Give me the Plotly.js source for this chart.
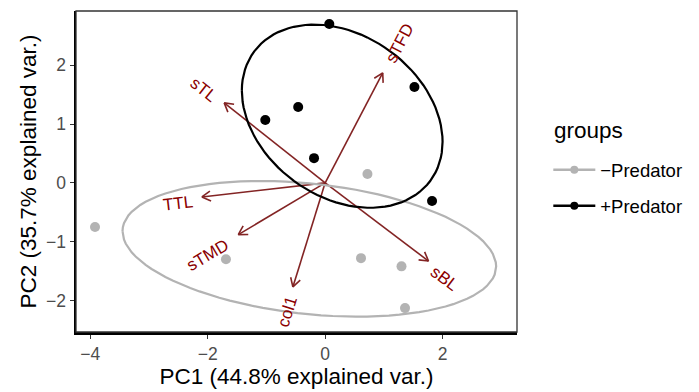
<!DOCTYPE html>
<html>
<head>
<meta charset="utf-8">
<script src="https://cdn.plot.ly/plotly-3.0.1.min.js"></script>
<style>html,body{margin:0;padding:0;background:#fff}#chart{width:699px;height:392px}</style>
</head>
<body>
<div id="chart"></div>
<script>
// ---- data ----
const groupNames = ["\u2212Predator", "+Predator"];
const legendTitle = "groups";
const noPredPC1 = [-3.92, -1.69, 0.72, 0.61, 1.30, 1.36];
const noPredPC2 = [-0.75, -1.30, 0.15, -1.28, -1.42, -2.13];
const predPC1 = [0.07, 1.52, -0.46, -1.02, -0.19, 1.82];
const predPC2 = [2.70, 1.63, 1.29, 1.07, 0.42, -0.31];

const varNames = ["sTL", "sTFD", "TTL", "sTMD", "col1", "sBL"];
const varPC1 = [-1.72, 0.98, -2.10, -1.48, -0.55, 1.76];
const varPC2 = [1.36, 1.87, -0.24, -0.88, -1.77, -1.33];
const labelPC1 = [-2.08, 1.28, -2.51, -2.01, -0.65, 2.03];
const labelPC2 = [1.58, 2.38, -0.35, -1.23, -2.20, -1.62];

const ellipseProb = 0.68;

// ---- styles ----
const grey = "#b3b3b3";
const black = "#000000";
const arrowCol = "#832424";
const labelCol = "#8b0000";
const font = "Liberation Sans, Arial, Helvetica, sans-serif";

// normal-probability ellipse (as ggbiplot)
function ellipse(xs, ys, prob) {
  const n = xs.length;
  const mx = xs.reduce((a, b) => a + b, 0) / n;
  const my = ys.reduce((a, b) => a + b, 0) / n;
  let sxx = 0, syy = 0, sxy = 0;
  for (let i = 0; i < n; i++) {
    sxx += (xs[i] - mx) ** 2; syy += (ys[i] - my) ** 2; sxy += (xs[i] - mx) * (ys[i] - my);
  }
  sxx /= (n - 1); syy /= (n - 1); sxy /= (n - 1);
  const a = Math.sqrt(sxx), b = sxy / a, c = Math.sqrt(syy - b * b);
  const ed = Math.sqrt(-2 * Math.log(1 - prob));
  const ex = [], ey = [];
  for (let k = 0; k <= 100; k++) {
    const t = -Math.PI + 2 * Math.PI * k / 100;
    const u = Math.cos(t), v = Math.sin(t);
    ex.push((u * a) * ed + mx);
    ey.push((u * b + v * c) * ed + my);
  }
  return {x: ex, y: ey};
}

const traces = [];

// arrows
const headLen = 0.17, headAng = Math.PI / 6;
const ax = [], ay = [];
for (let i = 0; i < varNames.length; i++) {
  const tx = varPC1[i], ty = varPC2[i];
  const L = Math.hypot(tx, ty);
  const ux = tx / L, uy = ty / L;
  ax.push(0, tx, null);
  ay.push(0, ty, null);
  for (const s of [1, -1]) {
    const c = Math.cos(s * headAng), sn = Math.sin(s * headAng);
    const rx = ux * c - uy * sn, ry = ux * sn + uy * c;
    ax.push(tx, tx - headLen * rx, null);
    ay.push(ty, ty - headLen * ry, null);
  }
}
traces.push({x: ax, y: ay, mode: "lines", line: {color: arrowCol, width: 1.6}, showlegend: false, hoverinfo: "skip"});

// points
traces.push({x: noPredPC1, y: noPredPC2, mode: "markers", marker: {color: grey, size: 10}, showlegend: false});
traces.push({x: predPC1, y: predPC2, mode: "markers", marker: {color: black, size: 10}, showlegend: false});

// ellipses
const e1 = ellipse(noPredPC1, noPredPC2, ellipseProb);
const e2 = ellipse(predPC1, predPC2, ellipseProb);
traces.push({x: e1.x, y: e1.y, mode: "lines", line: {color: grey, width: 2.2}, showlegend: false, hoverinfo: "skip"});
traces.push({x: e2.x, y: e2.y, mode: "lines", line: {color: black, width: 2.2}, showlegend: false, hoverinfo: "skip"});

// legend entries
traces.push({x: [null], y: [null], mode: "lines+markers", name: groupNames[0], legendgroup: "a",
  line: {color: grey, width: 2.5}, marker: {color: grey, size: 8}});
traces.push({x: [null], y: [null], mode: "lines+markers", name: groupNames[1], legendgroup: "b",
  line: {color: black, width: 2.5}, marker: {color: black, size: 8}});

// labels
const annotations = varNames.map((nm, i) => ({
  x: labelPC1[i], y: labelPC2[i], xref: "x", yref: "y", text: nm, showarrow: false,
  textangle: -Math.atan(varPC2[i] / varPC1[i]) * 180 / Math.PI,
  font: {family: font, size: 17, color: labelCol}
}));
annotations.push({
  x: 1.08, y: 0.628, xref: "paper", yref: "paper", xanchor: "left", yanchor: "middle",
  text: legendTitle, showarrow: false, font: {family: font, size: 22.5, color: "#000"}
});

const layout = {
  width: 699, height: 392,
  margin: {l: 76, r: 182, t: 11, b: 60},
  paper_bgcolor: "#fff", plot_bgcolor: "#fff",
  font: {family: font},
  xaxis: {
    range: [-4.244, 3.267], tickvals: [-4, -2, 0, 2], showgrid: false, zeroline: false,
    showline: true, linecolor: "#000", linewidth: 2.5,
    ticks: "outside", ticklen: 4, tickwidth: 1, tickcolor: "#333",
    tickfont: {family: font, size: 17.5, color: "#4d4d4d"},
    title: {text: "PC1 (44.8% explained var.)", font: {family: font, size: 22.5, color: "#000"}, standoff: 3}
  },
  yaxis: {
    range: [-2.536, 2.922], tickvals: [-2, -1, 0, 1, 2], showgrid: false, zeroline: false,
    showline: true, linecolor: "#000", linewidth: 2.5,
    ticks: "outside", ticklen: 4, tickwidth: 1, tickcolor: "#333",
    tickfont: {family: font, size: 17.5, color: "#4d4d4d"},
    title: {text: "PC2 (35.7% explained var.)", font: {family: font, size: 22.5, color: "#000"}, standoff: 3}
  },
  shapes: [{type: "rect", xref: "paper", yref: "paper", x0: 0, x1: 1, y0: 0, y1: 1,
    line: {color: "#333", width: 1.3}, fillcolor: "rgba(0,0,0,0)", layer: "above"}],
  annotations: annotations,
  showlegend: true,
  legend: {
    x: 1.071, y: 0.563, xanchor: "left", yanchor: "top",
    font: {family: font, size: 18.5, color: "#000"},
    itemwidth: 42,
    traceorder: "grouped", tracegroupgap: 9, bgcolor: "rgba(0,0,0,0)"
  }
};

Plotly.newPlot("chart", traces, layout, {displayModeBar: false, staticPlot: true});
</script>
</body>
</html>
